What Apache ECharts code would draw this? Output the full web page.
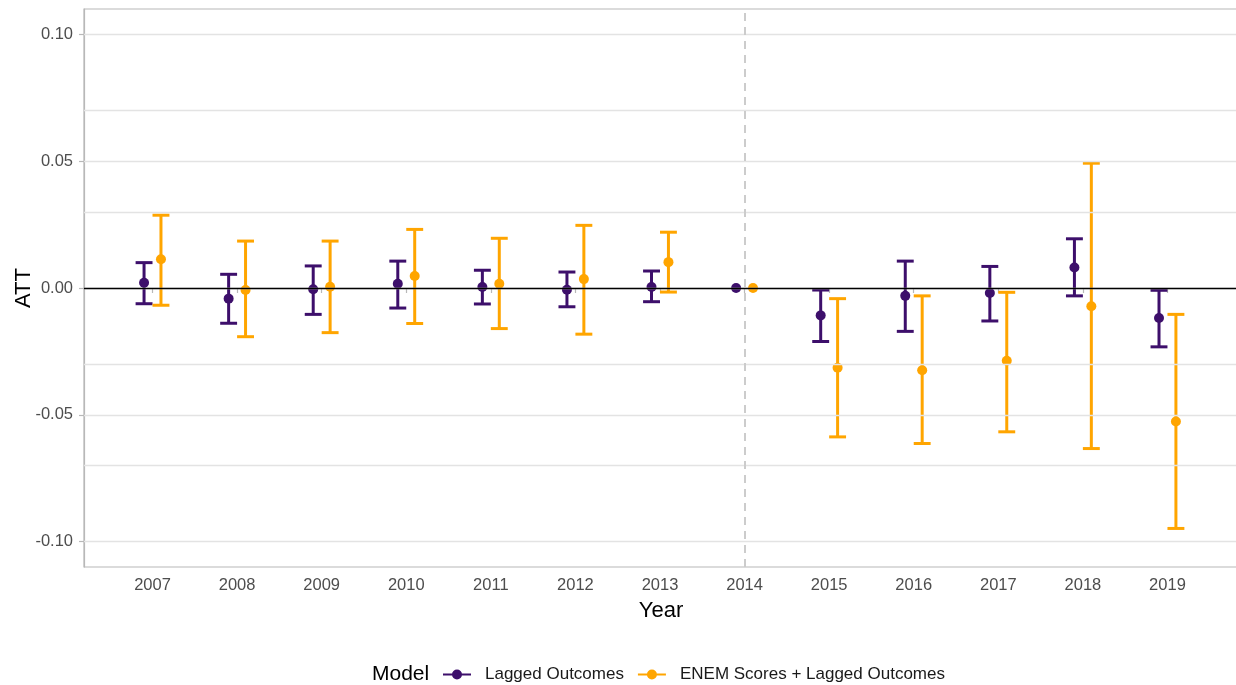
<!DOCTYPE html>
<html><head><meta charset="utf-8">
<script src="https://cdn.jsdelivr.net/npm/echarts@6/dist/echarts.min.js"></script>
<style>html,body{margin:0;padding:0;background:#fff}#c{width:1236px;height:685px}</style>
</head><body><div id="c"></div>
<script>
const years = [2007, 2008, 2009, 2010, 2011, 2012, 2013, 2014, 2015, 2016, 2017, 2018, 2019];
const lagEst  = [0.0021, -0.0042, -0.0005, 0.0017, 0.0004, -0.0007, 0.0004, 0.0000, -0.0108, -0.0031, -0.0020, 0.0081, -0.0118];
const lagLow  = [-0.0062, -0.0139, -0.0104, -0.0079, -0.0063, -0.0074, -0.0054, null, -0.0211, -0.0171, -0.0130, -0.0031, -0.0232];
const lagHigh = [0.0100, 0.0054, 0.0087, 0.0106, 0.0070, 0.0063, 0.0067, null, -0.0008, 0.0106, 0.0085, 0.0194, -0.0009];
const enemEst  = [0.0113, -0.0008, 0.0005, 0.0047, 0.0017, 0.0035, 0.0102, 0.0000, -0.0314, -0.0324, -0.0287, -0.0072, -0.0526];
const enemLow  = [-0.0068, -0.0192, -0.0176, -0.0140, -0.0160, -0.0182, -0.0016, null, -0.0587, -0.0613, -0.0567, -0.0633, -0.0948];
const enemHigh = [0.0287, 0.0185, 0.0185, 0.0231, 0.0196, 0.0247, 0.0220, null, -0.0042, -0.0031, -0.0017, 0.0492, -0.0104];
const yTickValues = [-0.1, -0.05, 0, 0.05, 0.1];
const yGridValues = [-0.1, -0.075, -0.05, -0.025, 0, 0.025, 0.05, 0.075, 0.1];
const treatmentYear = 2014;
const seriesNames = ['Lagged Outcomes', 'ENEM Scores + Lagged Outcomes'];

const PURPLE = '#3d0f6b';
const ORANGE = '#ffa500';
const DODGE = 0.1;
const CAP_HALF = 0.1;
const FONT = 'Liberation Sans, Arial, sans-serif';

function build(est, lo, hi) {
  return years.map((y, i) => [y, lo[i], hi[i], est[i]]);
}
function ok(v) { return v !== null && v !== undefined && !isNaN(v); }
function makeRender(color, dodge) {
  return function (params, api) {
    const x = api.value(0) + dodge;
    const lo = api.value(1), hi = api.value(2), est = api.value(3);
    const half = api.size([CAP_HALF, 0])[0];
    const st = { stroke: color, lineWidth: 3 };
    const children = [];
    if (ok(lo) && ok(hi)) {
      const a = api.coord([x, lo]), b = api.coord([x, hi]);
      children.push({ type: 'line', shape: { x1: a[0], y1: a[1], x2: b[0], y2: b[1] }, style: st });
      children.push({ type: 'line', shape: { x1: a[0] - half, y1: a[1], x2: a[0] + half, y2: a[1] }, style: st });
      children.push({ type: 'line', shape: { x1: b[0] - half, y1: b[1], x2: b[0] + half, y2: b[1] }, style: st });
    }
    const p = api.coord([x, est]);
    children.push({ type: 'circle', shape: { cx: p[0], cy: p[1], r: 5 }, style: { fill: color } });
    return { type: 'group', children };
  };
}

const chart = echarts.init(document.getElementById('c'), null, { renderer: 'canvas' });
const legendIcon = 'path://M0,4h28v2H0z M9,5a5,5 0 1,1 10,0a5,5 0 1,1 -10,0z';

chart.setOption({
  animation: false,
  backgroundColor: '#ffffff',
  textStyle: { fontFamily: FONT },
  grid: { left: 84, right: -2, top: 9, bottom: 118, show: true, borderColor: '#b8b8b8', borderWidth: 1.2, containLabel: false, outerBoundsMode: 'none' },
  title: { text: 'Model', left: 372, top: 664, padding: 0, textStyle: { fontFamily: FONT, fontSize: 21, fontWeight: 'normal', color: '#000' } },
  legend: {
    left: 443, top: 666, padding: 0, itemWidth: 28, itemHeight: 10, itemGap: 14,
    data: [{ name: seriesNames[0], icon: legendIcon }, { name: seriesNames[1], icon: legendIcon }],
    textStyle: { fontFamily: FONT, fontSize: 17, color: '#1a1a1a', padding: [0, 0, 0, 9] }
  },
  xAxis: {
    type: 'value', min: 2006.19, max: 2019.834,
    name: 'Year', nameLocation: 'middle', nameGap: 33, nameMoveOverlap: false,
    nameTextStyle: { fontFamily: FONT, fontSize: 22, color: '#000' },
    axisLine: { show: true, lineStyle: { color: '#b8b8b8', width: 1.2 } },
    axisTick: { show: true, length: 5, customValues: years, lineStyle: { color: '#b8b8b8', width: 1.2 } },
    axisLabel: { customValues: years, margin: 10, fontFamily: FONT, fontSize: 16.5, color: '#4d4d4d', formatter: v => String(v) },
    splitLine: { show: false }
  },
  yAxis: {
    type: 'value', min: -0.11, max: 0.11,
    name: 'ATT', nameLocation: 'middle', nameGap: 49, nameRotate: 90, nameMoveOverlap: false,
    nameTextStyle: { fontFamily: FONT, fontSize: 22, color: '#000' },
    axisLine: { show: true, lineStyle: { color: '#b8b8b8', width: 1.2 } },
    axisTick: { show: true, length: 5, customValues: yTickValues, lineStyle: { color: '#b8b8b8', width: 1.2 } },
    axisLabel: { customValues: yTickValues, margin: 11, fontFamily: FONT, fontSize: 16.5, color: '#4d4d4d', formatter: v => v.toFixed(2) },
    splitLine: { show: false }
  },
  series: [
    {
      name: '_grid', type: 'line', data: [], z: 1, silent: true,
      markLine: {
        silent: true, symbol: ['none', 'none'], label: { show: false },
        lineStyle: { color: '#e3e3e3', width: 1.3, type: 'solid' },
        data: yGridValues.map(v => ({ yAxis: v }))
      }
    },
    {
      name: '_vline', type: 'line', data: [], z: 2, silent: true,
      markLine: {
        silent: true, symbol: ['none', 'none'], label: { show: false },
        lineStyle: { color: '#cccccc', width: 2, type: [8, 6] },
        data: [{ xAxis: treatmentYear }]
      }
    },
    {
      name: seriesNames[0], type: 'custom', z: 3, itemStyle: { color: PURPLE },
      encode: { x: 0, y: [1, 2, 3] },
      renderItem: makeRender(PURPLE, -DODGE), data: build(lagEst, lagLow, lagHigh)
    },
    {
      name: seriesNames[1], type: 'custom', z: 3, itemStyle: { color: ORANGE },
      encode: { x: 0, y: [1, 2, 3] },
      renderItem: makeRender(ORANGE, DODGE), data: build(enemEst, enemLow, enemHigh)
    },
    {
      name: '_zero', type: 'line', data: [], z: 4, silent: true,
      markLine: {
        silent: true, symbol: ['none', 'none'], label: { show: false },
        lineStyle: { color: '#000000', width: 1.3, type: 'solid' },
        data: [{ yAxis: 0 }]
      }
    }
  ]
});
</script></body></html>
